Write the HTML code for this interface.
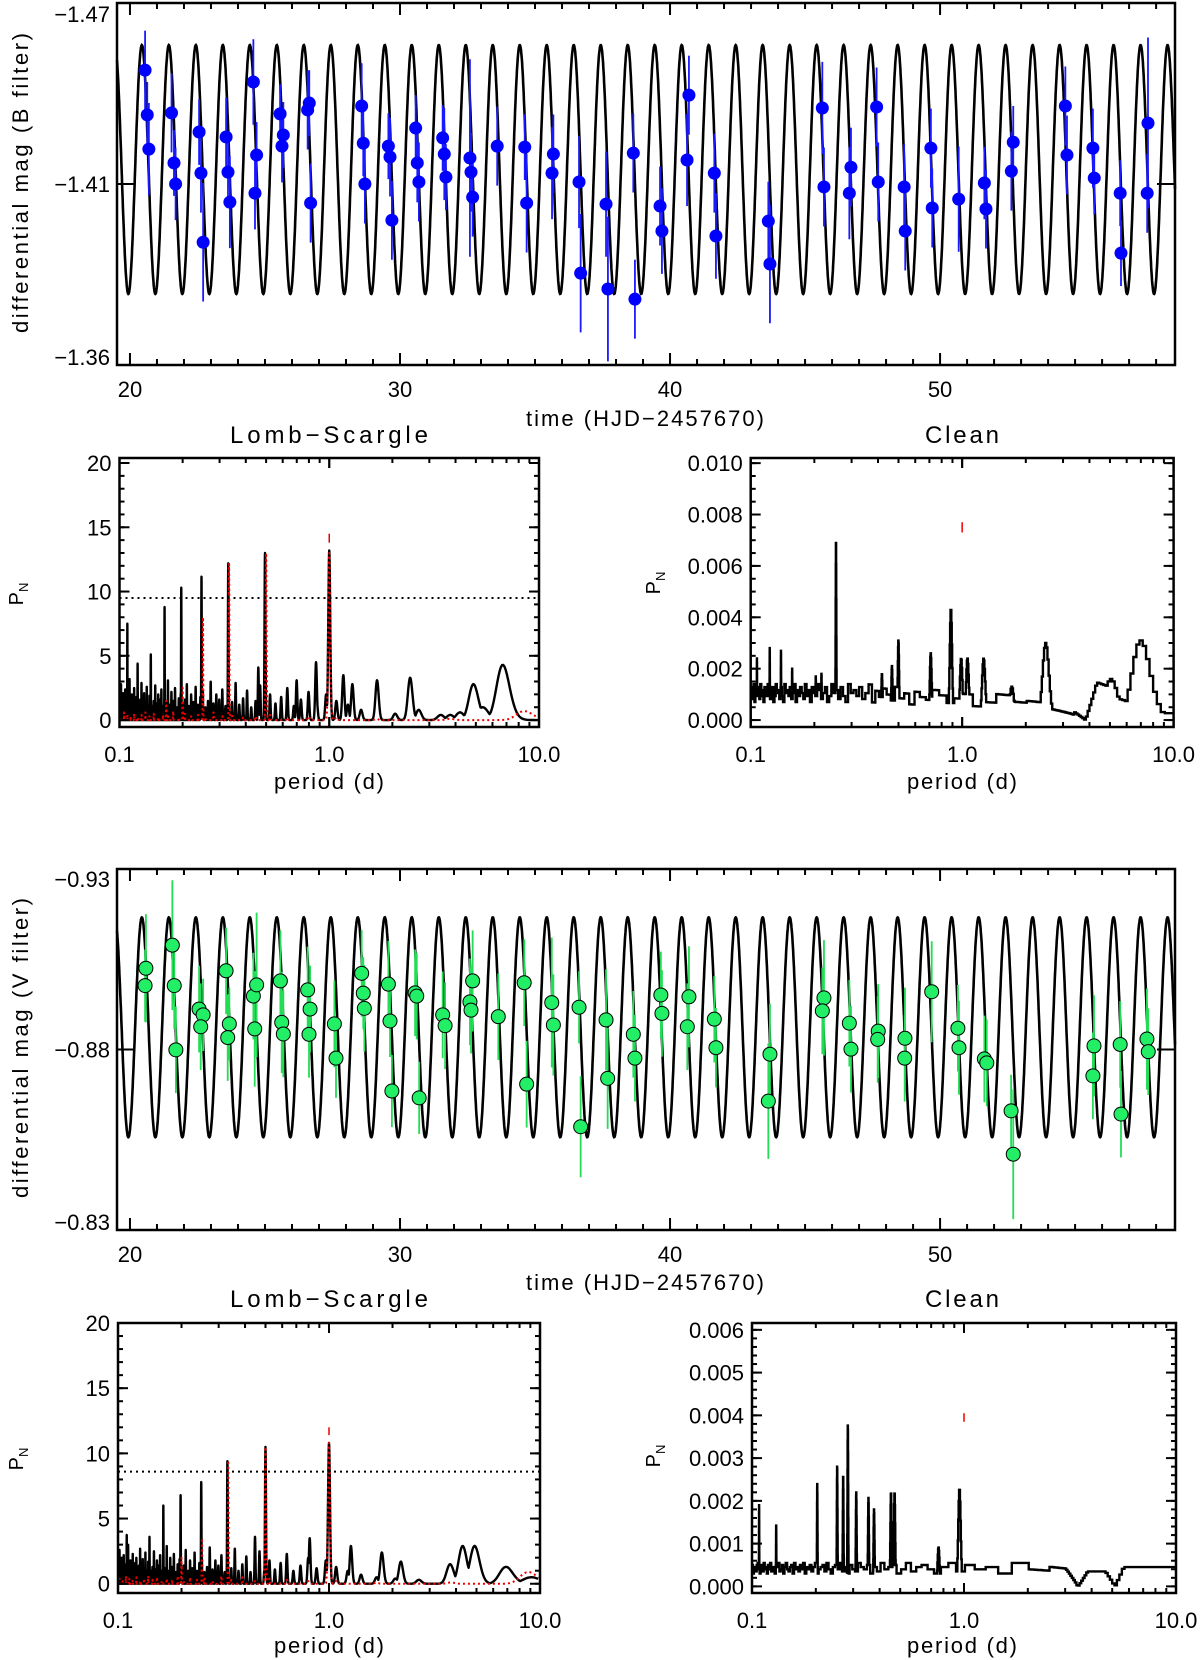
<!DOCTYPE html>
<html><head><meta charset="utf-8"><style>
html,body{margin:0;padding:0;background:#fff;}
svg{display:block;font-family:"Liberation Sans",sans-serif;}
text{fill:#000;}
</style></head><body>
<svg id="fig" xmlns="http://www.w3.org/2000/svg" width="1200" height="1660" viewBox="0 0 1200 1660">
<rect width="1200" height="1660" fill="#fff"/>
<text x="21" y="183" font-size="22" text-anchor="middle" textLength="300" transform="rotate(-90 21 183)" dy="7">differential mag (B filter)</text>
<text x="21" y="1048" font-size="22" text-anchor="middle" textLength="300" transform="rotate(-90 21 1048)" dy="7">differential mag (V filter)</text>
<text x="645" y="426" font-size="22" text-anchor="middle" textLength="238">time (HJD−2457670)</text>
<text x="645" y="1290" font-size="22" text-anchor="middle" textLength="238">time (HJD−2457670)</text>
<text x="329" y="443" font-size="24" text-anchor="middle" textLength="198">Lomb−Scargle</text>
<text x="962" y="443" font-size="24" text-anchor="middle" textLength="74">Clean</text>
<text x="329" y="1307" font-size="24" text-anchor="middle" textLength="198">Lomb−Scargle</text>
<text x="962" y="1307" font-size="24" text-anchor="middle" textLength="74">Clean</text>
<text x="329" y="789" font-size="22" text-anchor="middle" textLength="110">period (d)</text>
<text x="962" y="789" font-size="22" text-anchor="middle" textLength="110">period (d)</text>
<text x="329" y="1653" font-size="22" text-anchor="middle" textLength="110">period (d)</text>
<text x="962" y="1653" font-size="22" text-anchor="middle" textLength="110">period (d)</text>
<g transform="translate(23 594) rotate(-90)"><text x="0" y="0" font-size="20" text-anchor="middle">P<tspan font-size="13" dy="5">N</tspan></text></g>
<g transform="translate(660 583) rotate(-90)"><text x="0" y="0" font-size="20" text-anchor="middle">P<tspan font-size="13" dy="5">N</tspan></text></g>
<g transform="translate(23 1459) rotate(-90)"><text x="0" y="0" font-size="20" text-anchor="middle">P<tspan font-size="13" dy="5">N</tspan></text></g>
<g transform="translate(660 1456) rotate(-90)"><text x="0" y="0" font-size="20" text-anchor="middle">P<tspan font-size="13" dy="5">N</tspan></text></g>
</svg>
<script>
// ---- light curve data (B filter) ----
const bTimes=[20.56,20.64,20.70,21.54,21.63,21.69,22.56,22.63,22.71,23.56,23.63,23.70,24.57,24.69,24.63,25.56,25.68,25.63,26.58,26.64,26.69,28.58,28.64,28.70,29.57,29.63,29.70,30.58,30.64,30.70,31.58,31.64,31.70,32.59,32.63,32.69,33.60,34.62,34.69,35.68,35.63,36.63,36.69,37.63,37.70,38.64,38.70,39.63,39.70,40.70,40.63,41.64,41.70,43.64,43.70,45.64,45.70,46.70,46.64,47.65,47.71,48.67,48.71,49.66,49.71,50.69,51.64,51.70,52.71,52.64,54.64,54.70,55.66,55.71,56.67,56.70,57.70,57.67];
const bMags=[-1.4496,-1.4360,-1.4256,-1.4366,-1.4214,-1.4150,-1.4308,-1.4183,-1.3973,-1.4293,-1.4186,-1.4095,-1.4460,-1.4238,-1.4122,-1.4363,-1.4299,-1.4265,-1.4375,-1.4396,-1.4092,-1.4387,-1.4274,-1.4150,-1.4265,-1.4232,-1.4040,-1.4320,-1.4214,-1.4156,-1.4290,-1.4241,-1.4171,-1.4229,-1.4186,-1.4110,-1.4265,-1.4262,-1.4092,-1.4241,-1.4183,-1.4156,-1.3879,-1.4089,-1.3831,-1.4244,-1.3800,-1.4083,-1.4007,-1.4420,-1.4223,-1.4183,-1.3992,-1.4037,-1.3907,-1.4381,-1.4141,-1.4201,-1.4122,-1.4384,-1.4156,-1.4141,-1.4007,-1.4259,-1.4077,-1.4104,-1.4153,-1.4074,-1.4277,-1.4189,-1.4387,-1.4238,-1.4259,-1.4168,-1.4122,-1.3940,-1.4335,-1.4122];
const bErrs=[0.012,0.010,0.014,0.012,0.010,0.011,0.010,0.012,0.018,0.012,0.010,0.014,0.013,0.010,0.011,0.009,0.010,0.011,0.012,0.010,0.012,0.013,0.010,0.012,0.010,0.012,0.012,0.010,0.012,0.012,0.010,0.014,0.010,0.030,0.012,0.012,0.012,0.010,0.015,0.012,0.014,0.014,0.018,0.016,0.022,0.012,0.012,0.012,0.013,0.012,0.014,0.012,0.013,0.012,0.018,0.014,0.012,0.012,0.014,0.012,0.012,0.013,0.012,0.012,0.012,0.016,0.011,0.012,0.011,0.012,0.012,0.012,0.012,0.011,0.010,0.010,0.026,0.012];
// ---- light curve data (V filter) ----
const vTimes=[20.59,20.56,21.57,21.64,21.70,22.56,22.71,22.62,23.56,23.68,23.62,24.57,24.69,24.62,25.57,25.62,25.68,26.58,26.67,26.63,27.57,27.63,28.58,28.64,28.68,29.57,29.63,29.70,30.56,30.62,30.71,31.58,31.67,32.69,32.59,32.63,33.64,34.60,34.69,35.62,35.68,36.63,36.69,37.63,37.69,38.64,38.70,39.66,39.70,40.70,40.64,41.64,41.70,43.70,43.64,45.70,45.64,46.64,46.70,47.71,47.69,48.70,48.69,49.69,50.66,50.70,51.64,51.73,52.63,52.71,55.70,55.66,56.67,56.70,57.66,57.71];
const vMags=[-0.9025,-0.8977,-0.9089,-0.8977,-0.8799,-0.8912,-0.8896,-0.8863,-0.9018,-0.8871,-0.8833,-0.8948,-0.8979,-0.8857,-0.8990,-0.8875,-0.8843,-0.8965,-0.8912,-0.8842,-0.8871,-0.8776,-0.9011,-0.8956,-0.8914,-0.8981,-0.8879,-0.8685,-0.8957,-0.8948,-0.8666,-0.8896,-0.8866,-0.8990,-0.8932,-0.8909,-0.8891,-0.8985,-0.8704,-0.8930,-0.8868,-0.8917,-0.8586,-0.8882,-0.8720,-0.8842,-0.8776,-0.8951,-0.8900,-0.8946,-0.8863,-0.8884,-0.8805,-0.8787,-0.8657,-0.8943,-0.8907,-0.8873,-0.8801,-0.8851,-0.8828,-0.8831,-0.8776,-0.8960,-0.8859,-0.8805,-0.8774,-0.8763,-0.8630,-0.8510,-0.8810,-0.8727,-0.8814,-0.8621,-0.8829,-0.8794];
const vErrs=[0.015,0.010,0.018,0.012,0.012,0.012,0.010,0.012,0.012,0.010,0.012,0.012,0.020,0.016,0.014,0.014,0.012,0.012,0.012,0.012,0.012,0.011,0.012,0.010,0.012,0.012,0.010,0.010,0.012,0.012,0.010,0.012,0.012,0.014,0.012,0.012,0.012,0.012,0.012,0.018,0.014,0.010,0.014,0.014,0.014,0.012,0.012,0.012,0.012,0.014,0.012,0.012,0.011,0.014,0.016,0.016,0.012,0.012,0.012,0.013,0.012,0.014,0.012,0.014,0.012,0.013,0.012,0.012,0.010,0.018,0.014,0.012,0.012,0.012,0.014,0.012];
// ---- sinusoidal model ----
const sinePeriod=0.9996, sineEpoch=21.44;
const bModelMid=-1.4194, bModelAmp=0.0378;
const vModelMid=-0.88615, vModelAmp=0.03045;
// ---- Lomb-Scargle B ----
const lsBPeakPeriods=[1.0,0.494,0.330,0.246,0.197,0.164,0.141,0.122,0.109,0.865,0.699,0.459,1.167,1.289,1.69,2.43,2.67,4.87,5.4,6.72,3.4,4.2];
const lsBPeakPowers=[13.2,13.0,12.2,11.2,10.3,8.8,5.1,4.4,7.5,4.5,3.1,4.1,3.5,2.8,3.1,3.3,0.8,2.8,1.0,4.3,0.4,0.6];
const lsBNoise=[0.2,0.4,0.3,0.5,0.6,0.8,1.2,1.5,2.0,1.4,2.2,1.6,1.1,2.5,1.8,1.3,2.0,1.2,2.7,1.5,1.0,2.3,1.7,1.2,2.9,1.4,1.9,1.1,2.4,1.6,2.0,1.3,3.0,1.5,1.0,2.2,1.8,1.2,2.6,1.4,2.0,1.1,2.8,1.6,1.3,2.1,1.7,1.0,2.5,1.5,2.2,1.2,3.1,1.4,1.8,1.1,2.4,1.6,2.0,1.3,2.7,1.5,1.1,2.3,1.9,1.2,2.6,1.4,2.1,1.0,2.9,1.6,1.3,2.2,1.8,1.1,2.5,1.5,2.0,1.2,3.2,1.4,1.7,1.0,2.4,1.6,2.1,1.3,2.8,1.5];
const lsBRedPeriods=[1.0,0.5,0.333,0.25,0.2,0.167,8.5];
const lsBRedPowers=[13.0,13.0,12.2,8.0,2.5,1.5,0.7];
const lsBRedNoise=[0.1,0.1,0.2,0.3,0.2,0.4,0.3,0.2,0.5,0.3,0.6,0.2,0.4,0.3,0.5,0.2,0.7,0.3,0.4,0.2,0.5,0.3,0.6,0.4,0.2,0.5,0.3,0.4,0.6,0.2];
const lsBThreshold=9.5, lsBMarkLo=13.8, lsBMarkHi=14.5;
// ---- Clean B ----
const clBPeakPeriods=[0.253,0.883,0.499,0.709,0.987,1.057,1.26,2.47,6.88,5.0,1.71,0.465,0.417,0.123,0.139,0.157,0.107,0.203,0.216];
const clBPeakPowers=[0.0070,0.00435,0.0031,0.0026,0.0024,0.0024,0.0024,0.0030,0.0031,0.0016,0.0013,0.0021,0.0018,0.0028,0.0027,0.0020,0.0024,0.0017,0.0018];
const clBFloorPeriods=[0.1,0.35,0.6,1.5,2.5,3.3,3.8,4.3,8.2,10];
const clBFloorLevels=[0.0007,0.0007,0.0006,0.0005,0.0004,0.0002,0.0,0.0008,0.0002,0.0002];
const clBNoiseE4=[2,5,1,4,3,6,2,0,5,3,1,4,6,2,3,5,0,4,2,6,1,3,5,2,4,0,6,3,1,5,2,4,3,6,0,2,5,1,4,3,6,2,0,5,3,1,4,6,2,3,5,0,4,2,6,1,3,5,2,4,0,6,3,1,5,2,4,3,6,0,2,5,1,4,3,6,2,0,5,3,1,4,6,2,3,5,0,4,2,6,1,3,5,2,4,0,6,3,1,5];
const clBMarkLo=0.0073, clBMarkHi=0.0077;
// ---- Lomb-Scargle V ----
const lsVPeakPeriods=[1.0,0.5,0.33,0.248,0.198,0.164,0.141,0.110,0.446,0.81,1.27,1.78,2.19,3.75,4.3,4.9,6.9,9.1];
const lsVPeakPowers=[10.8,10.5,9.4,7.8,6.8,6.0,3.6,3.75,3.6,3.5,2.9,2.4,1.7,1.5,2.9,2.9,1.3,0.5];
const lsVNoise=[0.1,0.2,0.3,0.4,0.5,0.7,1.0,1.3,1.8,1.2,2.0,1.4,1.0,2.3,1.6,1.1,1.8,1.0,2.5,1.3,0.9,2.1,1.5,1.0,2.7,1.2,1.7,0.9,2.2,1.4,1.8,1.1,2.8,1.3,0.9,2.0,1.6,1.0,2.4,1.2,1.8,1.0,2.6,1.4,1.1,1.9,1.5,0.9,2.3,1.3,2.0,1.0,2.9,1.2,1.6,1.0,2.2,1.4,1.8,1.1,2.5,1.3,1.0,2.1,1.7,1.0,2.4,1.2,1.9,0.9,2.7,1.4,1.1,2.0,1.6,1.0,2.3,1.3,1.8,1.0,3.0,1.2,1.5,0.9,2.2,1.4,1.9,1.1,2.6,1.3];
const lsVRedPeriods=[1.0,0.5,0.333,0.25,0.2,8.8];
const lsVRedPowers=[10.8,10.5,9.5,3.5,2.0,0.9];
const lsVRedNoise=[0.1,0.1,0.2,0.2,0.3,0.4,0.2,0.5,0.3,0.6,0.2,0.4,0.3,0.5,0.2,0.6,0.3,0.4,0.2,0.5,0.3,0.6,0.4,0.2,0.5,0.3,0.4,0.6,0.2,0.4];
const lsVThreshold=8.6, lsVMarkLo=11.4, lsVMarkHi=12.0;
// ---- Clean V ----
const clVPeakPeriods=[0.283,0.252,0.269,0.203,0.31,0.354,0.376,0.452,0.47,0.95,0.757,0.13,0.108];
const clVPeakPowers=[0.00378,0.00282,0.0026,0.0024,0.0022,0.00207,0.0018,0.0022,0.0022,0.00229,0.00091,0.00144,0.0019];
const clVFloorPeriods=[0.1,1.0,2.0,3.0,3.43,3.8,4.6,5.1,5.6,10];
const clVFloorLevels=[0.0003,0.0003,0.0003,0.00025,0.0,0.0003,0.0003,0.0,0.0003,0.0003];
const clVNoiseE4=[3,1,4,2,5,0,3,2,4,1,5,3,0,2,4,3,1,5,2,0,4,3,2,5,1,3,0,4,2,3,5,1,2,4,0,3,1,5,2,4,3,0,2,5,1,4,3,2,0,5,3,1,4,2,3,0,5,2,4,1,3,2,5,0,4,3,1,2,5,3,0,4,2,1,5,3,4,0,2,3,1,5,2,4,0,3,2,5,1,4,3,0,2,5,4,1,3,2,0,4];
const clVMarkLo=0.00385, clVMarkHi=0.00405;
// ---- axis tick values ----
const timeMajorTicks=[20,30,40,50];
const bMagTicks=[-1.47,-1.415,-1.36], bMagTickLabels=["−1.47","−1.41","−1.36"];
const vMagTicks=[-0.93,-0.88,-0.83], vMagTickLabels=["−0.93","−0.88","−0.83"];
const periodTicks=[0.1,1,10], periodTickLabels=["0.1","1.0","10.0"];
const lsTicks=[0,5,10,15,20];
const clBTicks=[0,0.002,0.004,0.006,0.008,0.010], clBTickLabels=["0.000","0.002","0.004","0.006","0.008","0.010"];
const clVTicks=[0,0.001,0.002,0.003,0.004,0.005,0.006], clVTickLabels=["0.000","0.001","0.002","0.003","0.004","0.005","0.006"];

const NS="http://www.w3.org/2000/svg";
const svg=document.getElementById('fig');
function mk(tag,attrs,parent){const e=document.createElementNS(NS,tag);for(const k in attrs)e.setAttribute(k,attrs[k]);(parent||svg).appendChild(e);return e;}

const pB={L:117,R:1175,T:3,B:365,x0:19.52,x1:58.70,y0:-1.47,y1:-1.36};
const pV={L:117,R:1175,T:869,B:1230,x0:19.52,x1:58.70,y0:-0.93,y1:-0.83};
const qLsB={L:119.5,R:539,T:458,B:727,ymin:-0.54,ymax:20.39};
const qClB={L:750.7,R:1173.6,T:458,B:727,ymin:-0.00027,ymax:0.0102};
const qLsV={L:118,R:540,T:1323,B:1593,ymin:-0.71,ymax:20.0};
const qClV={L:752,R:1176,T:1323,B:1593,ymin:-0.000155,ymax:0.00616};

const tx=(p,t)=>p.L+(t-p.x0)/(p.x1-p.x0)*(p.R-p.L);
const my=(p,m)=>p.T+(m-p.y0)/(p.y1-p.y0)*(p.B-p.T);
const px=(q,P)=>q.L+(Math.log10(P)+1)/2*(q.R-q.L);
const py=(q,v)=>q.B-(Math.max(v,q.ymin)-q.ymin)/(q.ymax-q.ymin)*(q.B-q.T);

function frame(p,name){
  const r=mk('rect',{x:p.L,y:p.T,width:p.R-p.L,height:p.B-p.T,fill:'none',stroke:'#000','stroke-width':2.5});
  
  
}
function tick(x1,y1,x2,y2,g){mk('line',{x1,y1,x2,y2,stroke:'#000','stroke-width':2},g);}
function label(x,y,s,anchor,g,size){const t=mk('text',{x,y,'font-size':size||22,'text-anchor':anchor},g);t.textContent=s;return t;}

function timePanel(p,key,ticksY,tickLabels,labOffsets){
  const g=mk('g',{});
  
  
  for(let d=20;d<=58;d++){const x=tx(p,d);const big=timeMajorTicks.includes(d);const l=big?12:6;tick(x,p.B,x,p.B-l,g);tick(x,p.T,x,p.T+l,g);}
  timeMajorTicks.forEach(d=>{const t=label(tx(p,d),p.B+32,String(d),'middle',g);});
  ticksY.forEach((m,i)=>{const y=my(p,m);tick(p.L,y,p.L+18,y,g);tick(p.R,y,p.R-18,y,g);
    const t=label(p.L-7,y+8+labOffsets[i],tickLabels[i],'end',g);});
}
function model(p,mid,amp,name){
  let d='';for(let t=p.x0;t<=p.x1;t+=0.01){const m=mid-amp*Math.cos(2*Math.PI*(t-sineEpoch)/sinePeriod);d+=(d?'L':'M')+tx(p,t).toFixed(1)+' '+my(p,m).toFixed(1);}
  const e=mk('path',{d,fill:'none',stroke:'#000','stroke-width':2.6});
  
  
}
function points(p,ts,ms,es,col,ecol,stroke,r,name){
  const g=mk('g',{});
  
  
  ts.forEach((t,i)=>{const x=tx(p,t);const e=es[i]||0.012;
    const bar=mk('line',{x1:x,x2:x,y1:my(p,Math.max(ms[i]-e,p.y0)),y2:my(p,Math.min(ms[i]+e,p.y1)),stroke:ecol,'stroke-width':1.8},g);
    
    });
  ts.forEach((t,i)=>{const c=mk('circle',{cx:tx(p,t),cy:my(p,ms[i]),r,fill:col,stroke:stroke,'stroke-width':stroke==='none'?0:1},g);
    
    });
}
function logAxes(q,key,yTicks,yLabels,yMinorStep){
  const g=mk('g',{});
  
  
  for(let dec=0.1;dec<10;dec*=10){for(let k=1;k<=10;k++){const P=dec*k;const x=px(q,P);const big=(k===1||k===10);const l=big?10:5;tick(x,q.B,x,q.B-l,g);tick(x,q.T,x,q.T+l,g);}}
  periodTicks.forEach((P,i)=>{const t=label(px(q,P),q.B+35,periodTickLabels[i],'middle',g);});
  const top=yTicks[yTicks.length-1];
  for(let v=0;v<=top+1e-9;v+=yMinorStep){const y=py(q,v);tick(q.L,y,q.L+5,y,g);tick(q.R,y,q.R-5,y,g);}
  yTicks.forEach((v,i)=>{const y=py(q,v);tick(q.L,y,q.L+10,y,g);tick(q.R,y,q.R-10,y,g);
    const t=label(q.L-8,y+8,yLabels[i],'end',g);});
}
function interp(xs,ys,x){if(x<=xs[0])return ys[0];for(let i=1;i<xs.length;i++){if(x<=xs[i]){const f=(x-xs[i-1])/(xs[i]-xs[i-1]);return ys[i-1]+f*(ys[i]-ys[i-1]);}}return ys[ys.length-1];}
function spec(f,periods,powers,noise,wf){
  let v=0;periods.forEach((P,i)=>{const d=(f-1/P)/wf;if(d>-4&&d<4)v=Math.max(v,powers[i]*Math.exp(-d*d));});
  const nb=noise.length;noise.forEach((h,k)=>{const fk=0.1+(k+0.5)*9.9/nb;const d=(f-fk)/wf;if(d>-4&&d<4)v=Math.max(v,h*Math.exp(-d*d));});
  return v;
}
function lsCurve(q,periods,powers,noise,color,dash,name){
  let d='';const pts=[];
  for(let f=10;f>=0.1;f-=0.002){pts.push([px(q,1/f),py(q,spec(f,periods,powers,noise,0.015))]);}
  pts.forEach((p,i)=>{d+=(i?'L':'M')+p[0].toFixed(2)+' '+p[1].toFixed(1);});
  const a={d,fill:'none',stroke:color,'stroke-width':dash?2:2.4,'stroke-linejoin':'round'};if(dash)a['stroke-dasharray']=dash;
  const e=mk('path',a);
  
  
}
function cleanCurve(q,periods,powers,fp,fl,noiseE4,name){
  const nb=noiseE4.length;let d='';let prevY=null;
  for(let f=10;f>=0.1-1e-9;f-=0.005){
    const P=1/f;const fl0=interp(fp,fl,P);
    const k=Math.min(nb-1,Math.max(0,Math.floor((f-0.1)/9.9*nb)));
    let v=fl0+noiseE4[k]*1e-4*(fl0/0.0006);
    periods.forEach((Pp,i)=>{const dd=(f-1/Pp)/0.02;if(dd>-4&&dd<4)v=Math.max(v,powers[i]*Math.exp(-dd*dd));});
    const x=px(q,P),y=py(q,v);
    if(prevY===null)d='M'+x.toFixed(2)+' '+y.toFixed(1);else d+='L'+x.toFixed(2)+' '+prevY.toFixed(1)+'L'+x.toFixed(2)+' '+y.toFixed(1);
    prevY=y;
  }
  d+='L'+q.R+' '+prevY.toFixed(1);
  const e=mk('path',{d,fill:'none',stroke:'#000','stroke-width':2.4});
  
  
}
function threshold(q,v,name){
  const e=mk('line',{x1:q.L,x2:q.R,y1:py(q,v),y2:py(q,v),stroke:'#000','stroke-width':2,'stroke-dasharray':'2,4'});
  
  
}
function mark(q,lo,hi,name){
  const x=px(q,1.0);
  const e=mk('line',{x1:x,x2:x,y1:py(q,lo),y2:py(q,hi),stroke:'#e00','stroke-width':1.5});
  
  
}

timePanel(pB,'b-lightcurve',bMagTicks,bMagTickLabels,[11,0,-8]);
model(pB,bModelMid,bModelAmp,'b-sine-model');
points(pB,bTimes,bMags,bErrs,'#0000ff','#1a1aff','none',6.5,'b-data-points');
frame(pB,'b-lightcurve-frame');
lsCurve(qLsB,lsBPeakPeriods,lsBPeakPowers,lsBNoise,'#000',null,'b-ls-periodogram');
lsCurve(qLsB,lsBRedPeriods,lsBRedPowers,lsBRedNoise,'#e00','2,3','b-ls-window');
threshold(qLsB,lsBThreshold,'b-ls-threshold');
mark(qLsB,lsBMarkLo,lsBMarkHi,'b-ls-period-mark');
logAxes(qLsB,'b-ls',lsTicks,lsTicks.map(String),1);
frame(qLsB,'b-ls-frame');
cleanCurve(qClB,clBPeakPeriods,clBPeakPowers,clBFloorPeriods,clBFloorLevels,clBNoiseE4,'b-clean-periodogram');
mark(qClB,clBMarkLo,clBMarkHi,'b-clean-period-mark');
logAxes(qClB,'b-clean',clBTicks,clBTickLabels,0.0005);
frame(qClB,'b-clean-frame');
timePanel(pV,'v-lightcurve',vMagTicks,vMagTickLabels,[10,0,-8]);
model(pV,vModelMid,vModelAmp,'v-sine-model');
points(pV,vTimes,vMags,vErrs,'#22ee66','#22dd55','#000',7,'v-data-points');
frame(pV,'v-lightcurve-frame');
lsCurve(qLsV,lsVPeakPeriods,lsVPeakPowers,lsVNoise,'#000',null,'v-ls-periodogram');
lsCurve(qLsV,lsVRedPeriods,lsVRedPowers,lsVRedNoise,'#e00','2,3','v-ls-window');
threshold(qLsV,lsVThreshold,'v-ls-threshold');
mark(qLsV,lsVMarkLo,lsVMarkHi,'v-ls-period-mark');
logAxes(qLsV,'v-ls',lsTicks,lsTicks.map(String),1);
frame(qLsV,'v-ls-frame');
cleanCurve(qClV,clVPeakPeriods,clVPeakPowers,clVFloorPeriods,clVFloorLevels,clVNoiseE4,'v-clean-periodogram');
mark(qClV,clVMarkLo,clVMarkHi,'v-clean-period-mark');
logAxes(qClV,'v-clean',clVTicks,clVTickLabels,0.0002);
frame(qClV,'v-clean-frame');
</script>
</body></html>
